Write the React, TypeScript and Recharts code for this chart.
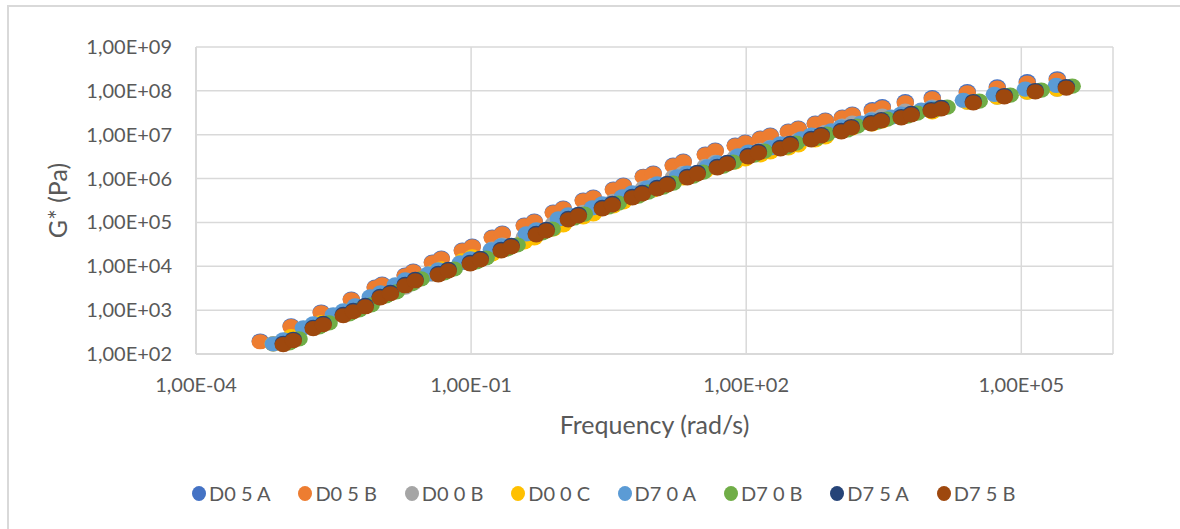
import React from 'react';
import { ScatterChart, Scatter, XAxis, YAxis, CartesianGrid, Label } from 'recharts';

const seriesNames = ['D0 5 A', 'D0 5 B', 'D0 0 B', 'D0 0 C', 'D7 0 A', 'D7 0 B', 'D7 5 A', 'D7 5 B'];
const seriesColors = ['#4472C4', '#ED7D31', '#A5A5A5', '#FFC000', '#5B9BD5', '#70AD47', '#264478', '#9E480E'];

const xTicks = [1e-4, 1e-1, 1e2, 1e5];
const yTicks = [1e2, 1e3, 1e4, 1e5, 1e6, 1e7, 1e8, 1e9];

// Frequency (rad/s)
const freqTop = [
  5.02e-4, 1.09e-3, 2.32e-3, 4.94e-3, 9.0e-3, 1.07e-2, 1.91e-2, 2.34e-2, 3.78e-2, 4.73e-2,
  8.02e-2, 0.103, 0.17, 0.219, 0.38, 0.489, 0.787, 1.01, 1.67, 2.15,
  3.56, 4.57, 7.55, 9.7, 16.0, 20.6, 35.8, 46.0, 76.0, 97.7,
  142.6, 183, 288, 370, 567, 729, 1117, 1436, 2371, 3048,
  5430, 10690, 25760, 54700, 116100, 246600,
];
const freqD00 = [
  6.96e-4, 1.09e-3, 2.32e-3, 4.94e-3, 9.0e-3, 1.07e-2, 1.91e-2, 2.34e-2, 3.78e-2, 4.73e-2,
  8.02e-2, 0.103, 0.17, 0.219, 0.38, 0.489, 0.787, 1.01, 1.67, 2.15,
  3.56, 4.57, 7.55, 9.7, 16.0, 20.6, 35.8, 46.0, 76.0, 97.7,
  142.6, 183, 288, 370, 567, 729, 1117, 1436, 2371, 3048,
  5430, 10690, 25760, 54700, 116100, 246600,
];
const freqBottom = [
  8.95e-4, 1.15e-3, 1.9e-3, 2.44e-3, 4.04e-3, 5.19e-3, 7.02e-3, 1.02e-2, 1.32e-2, 1.91e-2,
  2.46e-2, 4.39e-2, 5.64e-2, 9.79e-2, 0.126, 0.213, 0.274, 0.514, 0.661, 1.15,
  1.48, 2.7, 3.47, 5.73, 7.36, 10.7, 13.8, 22.8, 29.3, 48.4,
  62.2, 105, 136, 236, 303, 513, 659, 1089, 1400, 2312,
  2972, 4909, 6310, 10420, 13400, 29990, 65310, 142200, 309700,
];
const freqD70A = [
  6.96e-4, 8.95e-4, 1.48e-3, 1.9e-3, 3.14e-3, 4.04e-3, 5.46e-3, 7.94e-3, 1.03e-2, 1.49e-2,
  1.91e-2, 3.42e-2, 4.39e-2, 7.62e-2, 0.098, 0.166, 0.213, 0.4, 0.514, 0.895,
  1.15, 2.1, 2.7, 4.46, 5.73, 8.32, 10.7, 17.7, 22.8, 37.7,
  48.4, 81.7, 106, 184, 236, 399, 513, 847, 1089, 1799,
  2312, 3819, 4909, 8107, 10430, 23330, 50810, 110600, 240900,
];
const freqD70B = [
  1.04e-3, 1.33e-3, 2.2e-3, 2.83e-3, 4.69e-3, 6.02e-3, 8.14e-3, 1.18e-2, 1.53e-2, 2.22e-2,
  2.85e-2, 5.09e-2, 6.54e-2, 0.114, 0.146, 0.247, 0.318, 0.596, 0.767, 1.33,
  1.72, 3.13, 4.03, 6.65, 8.54, 12.4, 16.0, 26.4, 34.0, 56.1,
  72.2, 122, 158, 274, 351, 595, 764, 1263, 1624, 2682,
  3448, 5694, 7320, 12090, 15540, 34790, 75760, 165000, 359300,
];

// G* (Pa)
const gD05A = [
  198, 436, 908, 1795, 3365, 3945, 6324, 7799, 12500, 15420,
  23450, 28910, 46360, 57180, 87050, 107400, 172100, 212200, 322900, 377500,
  575100, 709300, 1.13e6, 1.33e6, 2.03e6, 2.5e6, 3.61e6, 4.45e6, 5.78e6, 6.77e6,
  8.34e6, 9.77e6, 1.21e7, 1.41e7, 1.83e7, 2.14e7, 2.51e7, 2.94e7, 3.73e7, 4.37e7,
  5.67e7, 6.99e7, 9.59e7, 1.24e8, 1.62e8, 1.89e8,
];
const gD05B = [
  190, 419, 873, 1726, 3236, 3793, 6081, 7499, 12020, 14830,
  22550, 27800, 44580, 54980, 83700, 103300, 165500, 204000, 310500, 363000,
  553000, 682000, 1.09e6, 1.28e6, 1.95e6, 2.4e6, 3.47e6, 4.28e6, 5.56e6, 6.51e6,
  8.02e6, 9.39e6, 1.16e7, 1.36e7, 1.76e7, 2.06e7, 2.41e7, 2.83e7, 3.49e7, 4.08e7,
  5.3e7, 6.53e7, 8.96e7, 1.16e8, 1.51e8, 1.77e8,
];
const gD00B = [
  171, 230, 480, 949, 1780, 2086, 3345, 4124, 6611, 8157,
  12400, 15290, 24520, 30240, 46040, 56820, 91030, 112200, 170800, 199700,
  304200, 375100, 599500, 704000, 1.07e6, 1.32e6, 1.91e6, 2.35e6, 3.06e6, 3.58e6,
  4.41e6, 5.16e6, 6.38e6, 7.48e6, 9.68e6, 1.13e7, 1.57e7, 1.84e7, 2.27e7, 2.65e7,
  3.45e7, 4.24e7, 5.56e7, 7.19e7, 9.36e7, 1.1e8,
];
const gD00C = [
  171, 248, 517, 1022, 1916, 2245, 3600, 4439, 7116, 8779,
  13350, 16460, 19260, 23750, 36160, 44630, 71500, 88130, 134100, 156800,
  238900, 294600, 470900, 553000, 842400, 1.04e6, 1.5e6, 1.85e6, 2.4e6, 2.81e6,
  3.46e6, 4.06e6, 5.01e6, 5.88e6, 7.6e6, 8.9e6, 1.22e7, 1.43e7, 1.77e7, 2.06e7,
  2.68e7, 3.3e7, 5.56e7, 7.19e7, 9.36e7, 1.1e8,
];
const gD70A = [
  171, 211, 396, 488, 782, 966, 1254, 2010, 2484, 3777,
  4911, 6717, 8283, 11970, 14760, 23680, 29190, 54850, 67640, 120300,
  148400, 214400, 264400, 381300, 470200, 611200, 753700, 1.09e6, 1.34e6, 1.84e6,
  2.27e6, 3.28e6, 4.04e6, 4.99e6, 6.15e6, 8.0e6, 9.86e6, 1.22e7, 1.5e7, 1.85e7,
  2.16e7, 2.53e7, 2.97e7, 3.65e7, 4.06e7, 6.1e7, 8.35e7, 1.09e8, 1.33e8,
];
const gD70B = [
  179, 221, 415, 512, 820, 1012, 1313, 2105, 2603, 3957,
  5145, 7037, 8678, 12540, 15470, 24810, 30580, 57460, 70860, 126100,
  155400, 224600, 277000, 399400, 492600, 640300, 789600, 1.14e6, 1.41e6, 1.93e6,
  2.38e6, 3.43e6, 4.24e6, 5.23e6, 6.45e6, 8.38e6, 1.03e7, 1.28e7, 1.57e7, 1.94e7,
  2.27e7, 2.65e7, 3.11e7, 3.83e7, 4.26e7, 5.83e7, 7.99e7, 1.04e8, 1.28e8,
];
const gD75A = [
  176, 217, 407, 502, 805, 994, 1290, 2067, 2555, 3885,
  5051, 6909, 8520, 12310, 15180, 24350, 30020, 56420, 69570, 123800,
  152600, 220500, 271900, 392100, 483600, 628700, 775200, 1.12e6, 1.38e6, 1.89e6,
  2.33e6, 3.37e6, 4.16e6, 5.13e6, 6.33e6, 8.23e6, 1.01e7, 1.25e7, 1.54e7, 1.9e7,
  2.22e7, 2.6e7, 3.06e7, 3.76e7, 4.18e7, 5.72e7, 7.84e7, 1.02e8, 1.25e8,
];
const gD75B = [
  163, 201, 377, 465, 745, 920, 1194, 1914, 2366, 3597,
  4677, 6397, 7889, 11400, 14060, 22550, 27800, 52240, 64420, 114600,
  141300, 204200, 251800, 363100, 447800, 582100, 717800, 1.04e6, 1.28e6, 1.75e6,
  2.16e6, 3.12e6, 3.85e6, 4.75e6, 5.86e6, 7.62e6, 9.39e6, 1.16e7, 1.43e7, 1.76e7,
  2.06e7, 2.41e7, 2.83e7, 3.48e7, 3.87e7, 5.3e7, 7.26e7, 9.44e7, 1.16e8,
];

const seriesX = [freqTop, freqTop, freqD00, freqD00, freqD70A, freqD70B, freqBottom, freqBottom];
const seriesY = [gD05A, gD05B, gD00B, gD00C, gD70A, gD70B, gD75A, gD75B];

const FONT = 'Lato, "Open Sans", sans-serif';
const TEXT = '#595959';
const GRID = '#d9d9d9';

const fmt = (v: number) => {
  const e = Math.round(Math.log10(v));
  const a = Math.abs(e);
  return `1,00E${e < 0 ? '-' : '+'}${a < 10 ? '0' : ''}${a}`;
};

const YTick = (p: any) => (
  <text x={p.x - 24} y={p.y} dy="0.35em" textAnchor="end" fill={TEXT} fontSize={20} fontFamily={FONT}>
    {fmt(p.payload.value)}
  </text>
);
const XTick = (p: any) => (
  <text x={p.x} y={p.y + 31} dy="0.35em" textAnchor="middle" fill={TEXT} fontSize={20} fontFamily={FONT}>
    {fmt(p.payload.value)}
  </text>
);

const makeShape = (color: string) => (p: any) => (
  <ellipse cx={p.cx} cy={p.cy} rx={8.7} ry={7.6} fill={color} />
);

export default function App() {
  const series = seriesNames.map((name, i) => ({
    name,
    color: seriesColors[i],
    data: seriesX[i].map((x, j) => ({ x, y: seriesY[i][j] })),
  }));
  return (
    <div style={{ position: 'relative', width: 1180, height: 529, overflow: 'hidden', background: '#fff' }}>
      <style>{'body{margin:0;}'}</style>
      <div
        style={{
          position: 'absolute', left: 7, top: 5, width: 1200, height: 560,
          border: `2px solid ${GRID}`, boxSizing: 'border-box',
        }}
      />
      <div style={{ position: 'absolute', left: 0, top: 0 }}>
        <ScatterChart width={1180} height={529} margin={{ top: 47, right: 67, bottom: 115, left: 0 }}>
          <CartesianGrid stroke={GRID} strokeWidth={1.5} />
          <XAxis
            type="number"
            dataKey="x"
            scale="log"
            domain={[1e-4, 1e6]}
            ticks={xTicks}
            allowDataOverflow
            height={60}
            tickLine={false}
            tickSize={0}
            tickMargin={0}
            axisLine={{ stroke: GRID, strokeWidth: 2 }}
            tick={XTick}
          >
            <Label
              content={(p: any) => {
                const vb = p.viewBox;
                return (
                  <text x={vb.x + vb.width / 2} y={425} dy="0.35em" textAnchor="middle" fill={TEXT} fontSize={25} fontFamily={FONT}>
                    Frequency (rad/s)
                  </text>
                );
              }}
            />
          </XAxis>
          <YAxis
            type="number"
            dataKey="y"
            scale="log"
            domain={[1e2, 1e9]}
            ticks={yTicks}
            allowDataOverflow
            width={196}
            tickLine={false}
            tickSize={0}
            tickMargin={0}
            axisLine={{ stroke: GRID, strokeWidth: 2 }}
            tick={YTick}
          >
            <Label
              content={(p: any) => {
                const vb = p.viewBox;
                const cx = 58;
                const cy = vb.y + vb.height / 2;
                return (
                  <text x={cx} y={cy} dy="0.35em" textAnchor="middle" fill={TEXT} fontSize={25} fontFamily={FONT} transform={`rotate(-90, ${cx}, ${cy})`}>
                    G* (Pa)
                  </text>
                );
              }}
            />
          </YAxis>
          {series.map((s) => (
            <Scatter key={s.name} name={s.name} data={s.data} fill={s.color} shape={makeShape(s.color)} isAnimationActive={false} />
          ))}
        </ScatterChart>
      </div>
      <div style={{ position: 'absolute', left: 192, top: 481, display: 'flex', fontFamily: FONT, fontSize: 20, color: TEXT }}>
        {series.map((s) => (
          <div key={s.name} style={{ width: 106.4, display: 'flex', alignItems: 'center', height: 24 }}>
            <span style={{ display: 'inline-block', width: 14, height: 15, borderRadius: '50%', background: s.color, marginRight: 3 }} />
            <span>{s.name}</span>
          </div>
        ))}
      </div>
    </div>
  );
}
